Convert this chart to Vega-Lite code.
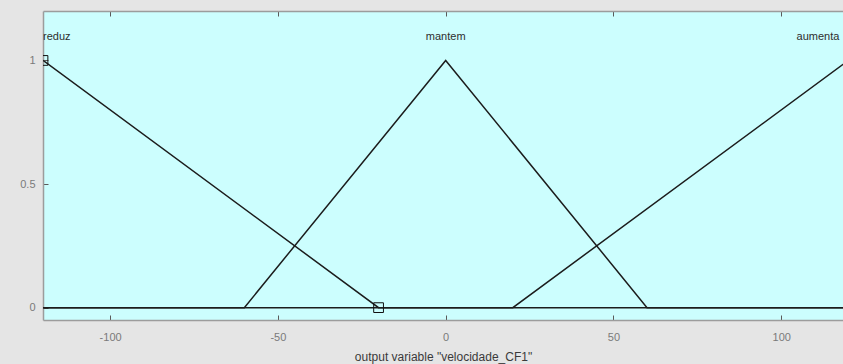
{
  "$schema": "https://vega.github.io/schema/vega-lite/v6.json",
  "width": 800,
  "height": 309,
  "autosize": {"type": "none"},
  "padding": {"left": 43, "top": 11, "right": 0, "bottom": 44},
  "background": "#e5e5e5",
  "config": {
    "view": {"fill": "#ccfefe", "stroke": null},
    "font": "Liberation Sans",
    "axis": {
      "grid": false,
      "zindex": 1,
      "domainColor": "#9c9c9c",
      "domainWidth": 1.5,
      "tickColor": "#5a5a5a",
      "tickSize": -5,
      "labelColor": "#7a7a7a",
      "labelFont": "Liberation Sans",
      "labelFontSize": 11,
      "titleColor": "#3a3a3a",
      "titleFont": "Liberation Sans",
      "titleFontSize": 12,
      "titleFontWeight": "normal"
    }
  },
  "datasets": {
    "mfs": [
      {"mf": "reduz", "x": -120, "mu": 1},
      {"mf": "reduz", "x": -20, "mu": 0},
      {"mf": "reduz", "x": 120, "mu": 0},
      {"mf": "mantem", "x": -120, "mu": 0},
      {"mf": "mantem", "x": -60, "mu": 0},
      {"mf": "mantem", "x": 0, "mu": 1},
      {"mf": "mantem", "x": 60, "mu": 0},
      {"mf": "mantem", "x": 120, "mu": 0},
      {"mf": "aumenta", "x": -120, "mu": 0},
      {"mf": "aumenta", "x": 20, "mu": 0},
      {"mf": "aumenta", "x": 120, "mu": 1}
    ],
    "markers": [
      {"x": -120, "mu": 1},
      {"x": -20, "mu": 0}
    ],
    "labels": [
      {"mf": "reduz", "x": -120, "mu": 1.1},
      {"mf": "mantem", "x": 0, "mu": 1.1},
      {"mf": "aumenta", "x": 120, "mu": 1.1}
    ]
  },
  "resolve": {"axis": {"x": "independent", "y": "independent"}},
  "layer": [
    {
      "data": {"name": "mfs"},
      "mark": {"type": "line", "clip": true, "color": "#1c1c1c", "strokeWidth": 1.5},
      "encoding": {
        "x": {
          "field": "x",
          "type": "quantitative",
          "scale": {"domain": [-120, 118.4], "nice": false, "zero": false},
          "axis": {
            "orient": "bottom",
            "values": [-100, -50, 0, 50, 100],
            "labelExpr": "datum.value + ''",
            "labelPadding": 16,
            "title": "output variable \"velocidade_CF1\"",
            "titlePadding": 9
          }
        },
        "y": {
          "field": "mu",
          "type": "quantitative",
          "scale": {"domain": [-0.05, 1.2], "nice": false, "zero": false},
          "axis": {
            "orient": "left",
            "values": [0, 0.5, 1],
            "labelExpr": "datum.value + ''",
            "labelPadding": 13,
            "title": null
          }
        },
        "detail": {"field": "mf"}
      }
    },
    {
      "data": {"name": "markers"},
      "mark": {"type": "point", "shape": "square", "size": 95, "filled": false, "stroke": "#111111", "strokeWidth": 1, "clip": true, "opacity": 1},
      "encoding": {
        "x": {
          "field": "x",
          "type": "quantitative",
          "axis": {
            "orient": "top",
            "values": [-100, -50, 0, 50, 100],
            "labels": false,
            "tickSize": -5,
            "title": null
          }
        },
        "y": {"field": "mu", "type": "quantitative", "axis": null}
      }
    },
    {
      "data": {"name": "labels"},
      "transform": [{"filter": "datum.mf === 'reduz'"}],
      "mark": {"type": "text", "align": "left", "baseline": "middle", "fontSize": 11, "color": "#2e2e2e", "dy": 1},
      "encoding": {
        "x": {"field": "x", "type": "quantitative", "axis": null},
        "y": {"field": "mu", "type": "quantitative", "axis": null},
        "text": {"field": "mf"}
      }
    },
    {
      "data": {"name": "labels"},
      "transform": [{"filter": "datum.mf === 'mantem'"}],
      "mark": {"type": "text", "align": "center", "baseline": "middle", "fontSize": 11, "color": "#2e2e2e", "dy": 1},
      "encoding": {
        "x": {"field": "x", "type": "quantitative", "axis": null},
        "y": {"field": "mu", "type": "quantitative", "axis": null},
        "text": {"field": "mf"}
      }
    },
    {
      "data": {"name": "labels"},
      "transform": [{"filter": "datum.mf === 'aumenta'"}],
      "mark": {"type": "text", "align": "right", "baseline": "middle", "fontSize": 11, "color": "#2e2e2e", "dy": 1, "dx": -9},
      "encoding": {
        "x": {"field": "x", "type": "quantitative", "axis": null},
        "y": {"field": "mu", "type": "quantitative", "axis": null},
        "text": {"field": "mf"}
      }
    }
  ]
}
